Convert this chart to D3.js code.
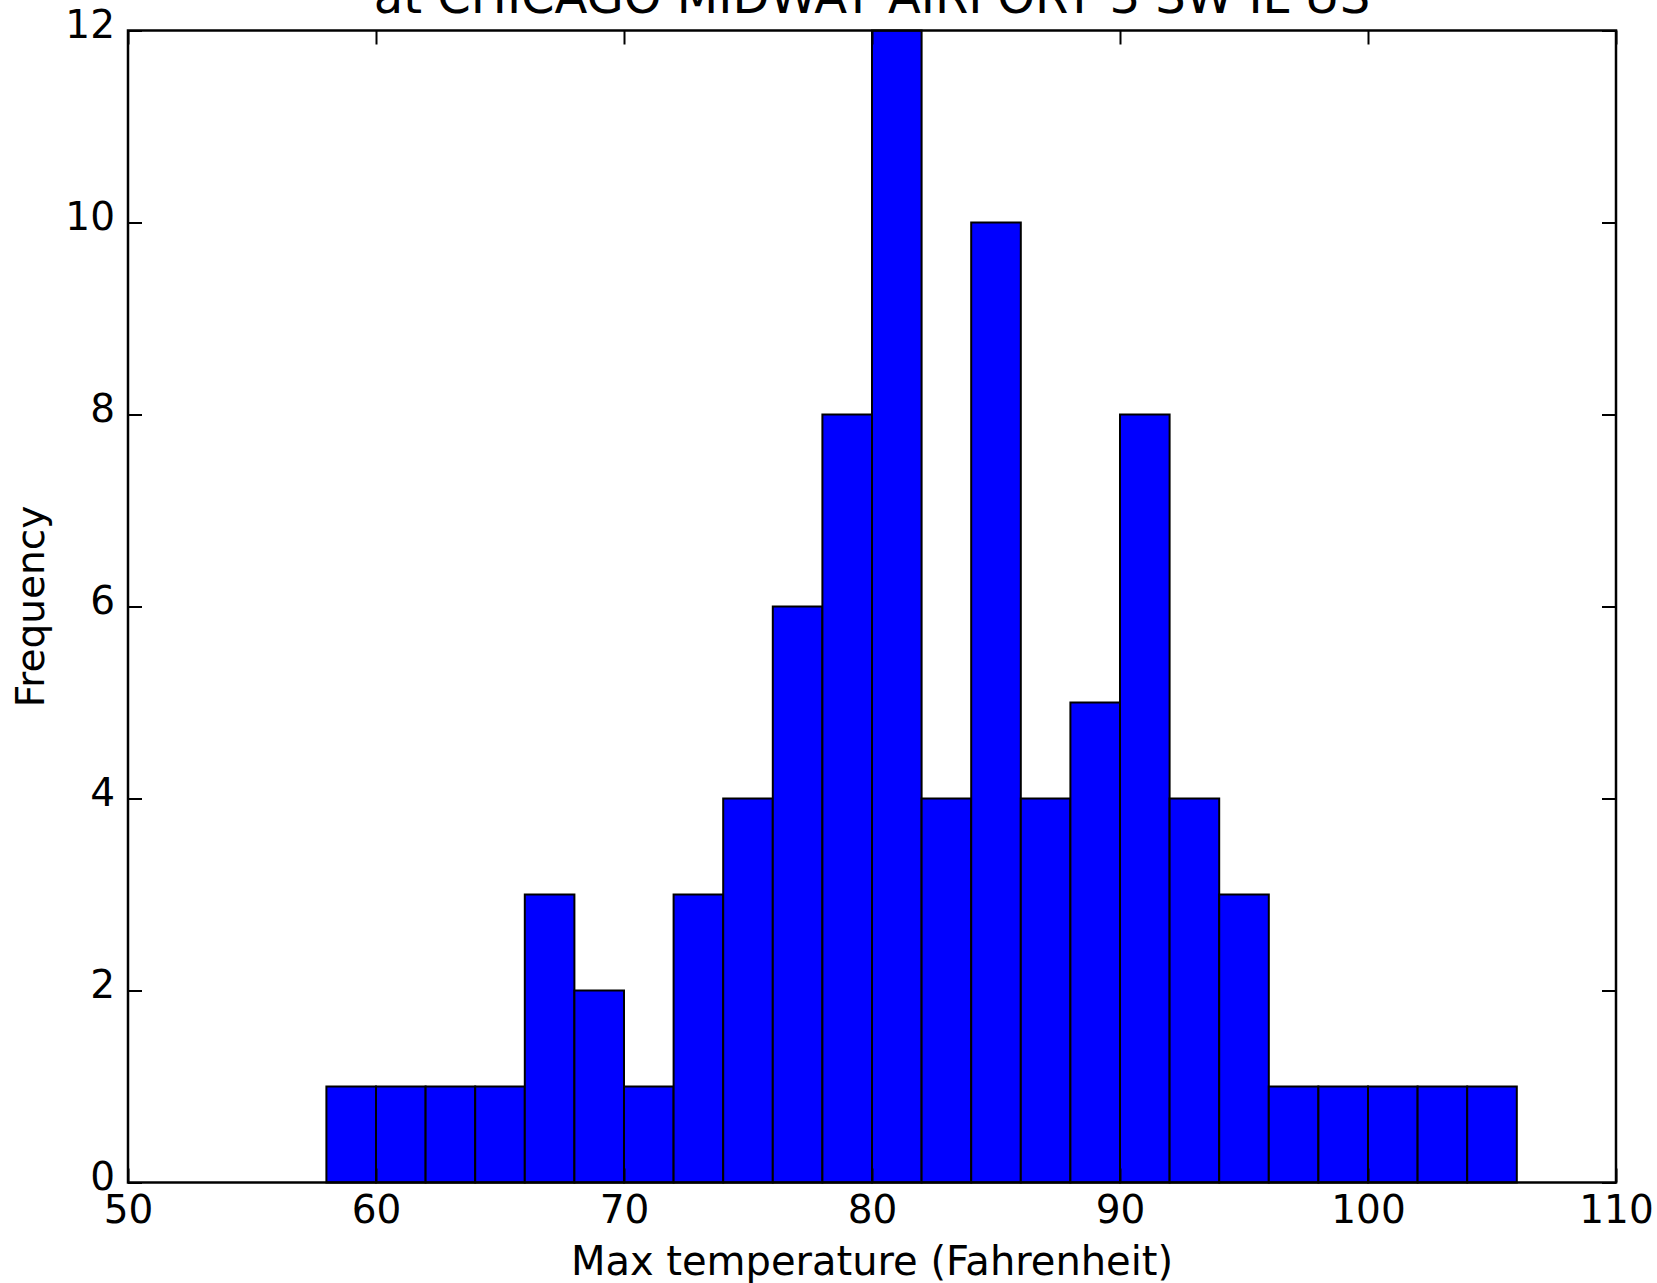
<!DOCTYPE html>
<html>
<head>
<meta charset="utf-8">
<script src="https://cdn.jsdelivr.net/npm/d3@7.9.0/dist/d3.min.js"></script>
<style>
  html, body { margin: 0; padding: 0; background: #fff; }
  svg { display: block; font-family: "DejaVu Sans", sans-serif; }
</style>
</head>
<body>
<svg id="chart" width="1657" height="1283"></svg>
<script>
// bin edges every 2 degrees from 58 to 106
const binStarts = [58, 60, 62, 64, 66, 68, 70, 72, 74, 76, 78, 80, 82, 84, 86, 88, 90, 92, 94, 96, 98, 100, 102, 104];
const counts = [1, 1, 1, 1, 3, 2, 1, 3, 4, 6, 8, 12, 4, 10, 4, 5, 8, 4, 3, 1, 1, 1, 1, 1];
const binWidth = 2;
const xTicks = [50, 60, 70, 80, 90, 100, 110];
const yTicks = [0, 2, 4, 6, 8, 10, 12];
const titleText = "at CHICAGO MIDWAY AIRPORT 3 SW IL US";
const xLabel = "Max temperature (Fahrenheit)";
const yLabel = "Frequency";

const margin = { left: 128, right: 41, top: 30.5, bottom: 100.5 };
const width = 1657, height = 1283;

const svg = d3.select("#chart");

const x = d3.scaleLinear().domain([50, 110]).range([margin.left, width - margin.right]);
const y = d3.scaleLinear().domain([0, 12]).range([height - margin.bottom, margin.top]);

let bins = binStarts.map((s, i) => ({ x0: s, x1: s + binWidth, n: counts[i] }));

// bars
svg.append("g")
  .selectAll("rect")
  .data(bins)
  .join("rect")
  .attr("x", (d) => x(d.x0))
  .attr("y", (d) => y(d.n))
  .attr("width", (d) => x(d.x1) - x(d.x0))
  .attr("height", (d) => y(0) - y(d.n))
  .attr("fill", "#0000ff")
  .attr("stroke", "#000")
  .attr("stroke-width", 2);

const tickLen = 14;
const tickFont = 39;
const labelFont = 40;

// ticks point inward on all four sides, labels only bottom/left
let axBottom = svg.append("g")
  .attr("transform", `translate(0,${y(0)})`)
  .call(d3.axisBottom(x).tickValues(xTicks).tickSizeInner(-tickLen).tickSizeOuter(0).tickPadding(13));
let axTop = svg.append("g")
  .attr("transform", `translate(0,${y(12)})`)
  .call(d3.axisTop(x).tickValues(xTicks).tickSizeInner(-tickLen).tickSizeOuter(0).tickFormat(""));
let axLeft = svg.append("g")
  .attr("transform", `translate(${x(50)},0)`)
  .call(d3.axisLeft(y).tickValues(yTicks).tickSizeInner(-tickLen).tickSizeOuter(0).tickPadding(13));
let axRight = svg.append("g")
  .attr("transform", `translate(${x(110)},0)`)
  .call(d3.axisRight(y).tickValues(yTicks).tickSizeInner(-tickLen).tickSizeOuter(0).tickFormat(""));

[axBottom, axTop, axLeft, axRight].forEach((g) => {
  g.select(".domain").remove();
  g.selectAll(".tick line").attr("stroke", "#000").attr("stroke-width", 2);
  g.selectAll(".tick text")
    .attr("fill", "#000")
    .attr("font-size", tickFont)
    .attr("font-family", "DejaVu Sans, sans-serif");
});
// y labels sit a little above their ticks in the original
axLeft.selectAll(".tick text").attr("dy", "0.17em");

// frame
svg.append("rect")
  .attr("x", x(50))
  .attr("y", y(12))
  .attr("width", x(110) - x(50))
  .attr("height", y(0) - y(12))
  .attr("fill", "none")
  .attr("stroke", "#000")
  .attr("stroke-width", 2.5);

// labels
svg.append("text")
  .attr("x", (x(50) + x(110)) / 2)
  .attr("y", 1275)
  .attr("text-anchor", "middle")
  .attr("font-size", labelFont)
  .text(xLabel);

svg.append("text")
  .attr("transform", `translate(44,${(y(0) + y(12)) / 2}) rotate(-90)`)
  .attr("text-anchor", "middle")
  .attr("font-size", 39)
  .text(yLabel);

// title sits partly above the top edge, as in the original figure
svg.append("text")
  .attr("x", (x(50) + x(110)) / 2)
  .attr("y", 13)
  .attr("text-anchor", "middle")
  .attr("font-size", 48)
  .text(titleText);
</script>
</body>
</html>
